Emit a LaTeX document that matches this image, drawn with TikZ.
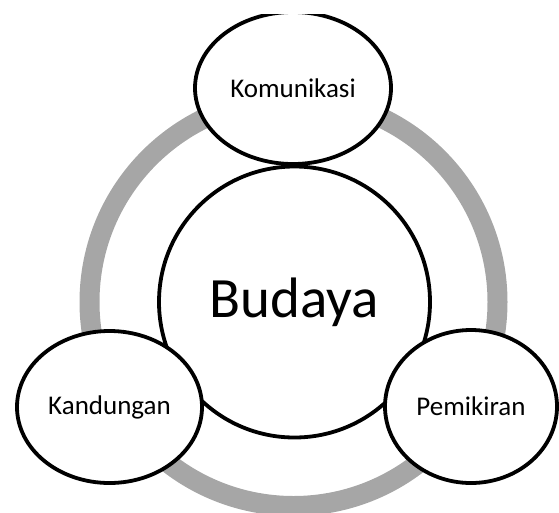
\documentclass[tikz,border=0pt]{standalone}
\usepackage{fontspec}
\setmainfont{Carlito}
\usepackage{tikz}
\usetikzlibrary{shapes.geometric,positioning}
\definecolor{ringgray}{RGB}{166,166,166}
\tikzset{bubble/.style={ellipse,draw,line width=3.8pt,fill=white,inner sep=0pt,font=\fontsize{27}{31}\selectfont}}
\tikzset{core/.style={circle,draw,line width=3.8pt,fill=white,inner sep=0pt,minimum size=271pt,font=\fontsize{57}{61}\selectfont}}

\begin{document}
\begin{tikzpicture}[x=1pt,y=-1pt]
	\useasboundingbox (0,0) rectangle (559,512);
	\clip (0,14) rectangle (559,512);
	
	\coordinate (mid) at (293.5,302);
	\draw[ringgray, line width=20pt] (mid) circle (204pt);
	
	\node[core] (budaya) at (294.5,302) {Budaya};
	
	\node[bubble, minimum width=196pt, minimum height=152pt] (kom) at (293,88) {Komunikasi};
	\node[bubble, minimum width=185pt, minimum height=152pt] (kand) at (109.5,407) {Kandungan};
	\node[bubble, minimum width=172pt, minimum height=153pt] (pem) at (471,406.5) {Pemikiran};
\end{tikzpicture}
\end{document}
